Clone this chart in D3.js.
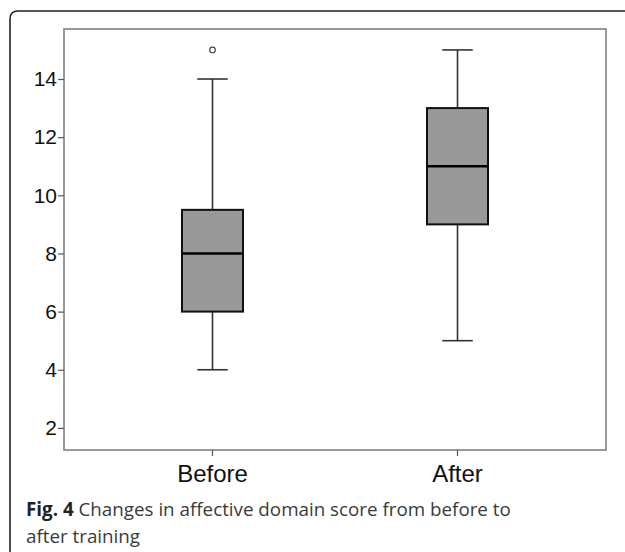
<!DOCTYPE html>
<html>
<head>
<meta charset="utf-8">
<script src="https://cdn.jsdelivr.net/npm/d3@7"></script>
<style>
  html, body { margin: 0; padding: 0; background: #fff; }
  svg { display: block; }
</style>
</head>
<body>
<div id="chart"></div>
<script>
// datos
const categorias = ["Before", "After"];
const minimos   = [4, 5];
const q1        = [6, 9];
const medianas  = [8, 11];
const q3        = [9.5, 13];
const maximos   = [14, 15];
const atipicos  = [[15], []];
const ticksY    = [2, 4, 6, 8, 10, 12, 14];

const width = 625, height = 552;
const mIzq = 64, mDer = 606, mSup = 29, mInf = 450;

const datos = categorias.map((c, i) => ({
    cat: c, min: minimos[i], q1: q1[i], med: medianas[i], q3: q3[i], max: maximos[i], out: atipicos[i]
}));

const svg = d3.select("#chart").append("svg")
    .attr("width", width)
    .attr("height", height);

// marco exterior (esquina redondeada arriba a la izquierda)
svg.append("path")
    .attr("d", `M10,${height} L10,19 Q10,11 18,11 L${width},11`)
    .attr("fill", "none")
    .attr("stroke", "#222")
    .attr("stroke-width", 1.6);

const x = d3.scaleBand()
    .domain(categorias)
    .range([mIzq, mDer])
    .paddingInner(0.751)
    .paddingOuter(0.4815);

const y = d3.scaleLinear()
    .domain([1.24, 15.72])
    .range([mInf, mSup]);

// marco del gráfico
svg.append("rect")
    .attr("x", mIzq).attr("y", mSup)
    .attr("width", mDer - mIzq).attr("height", mInf - mSup)
    .attr("fill", "none")
    .attr("stroke", "#808080")
    .attr("stroke-width", 1.6);

// eje Y
const ejeY = svg.append("g")
    .attr("transform", `translate(${mIzq},0)`)
    .call(d3.axisLeft(y).tickValues(ticksY).tickSize(6).tickPadding(1).tickFormat(d3.format("d")));
ejeY.select(".domain").remove();
ejeY.selectAll(".tick line").attr("stroke", "#555").attr("stroke-width", 1.2);
ejeY.selectAll(".tick text")
    .attr("font-family", "'Liberation Sans', Arial, sans-serif")
    .attr("font-size", "21px")
    .attr("fill", "#111");

// eje X
const ejeX = svg.append("g")
    .attr("transform", `translate(0,${mInf})`)
    .call(d3.axisBottom(x).tickSize(6).tickPadding(9));
ejeX.select(".domain").remove();
ejeX.selectAll(".tick line").attr("stroke", "#555").attr("stroke-width", 1.2);
ejeX.selectAll(".tick text")
    .attr("font-family", "'Liberation Sans', Arial, sans-serif")
    .attr("font-size", "24px")
    .attr("fill", "#111");

const bw = x.bandwidth();
const cajas = svg.append("g").selectAll("g")
    .data(datos)
    .enter().append("g");

// bigotes
cajas.append("line")
    .attr("x1", d => x(d.cat) + bw / 2).attr("x2", d => x(d.cat) + bw / 2)
    .attr("y1", d => y(d.max)).attr("y2", d => y(d.q3))
    .attr("stroke", "#333").attr("stroke-width", 1.6);
cajas.append("line")
    .attr("x1", d => x(d.cat) + bw / 2).attr("x2", d => x(d.cat) + bw / 2)
    .attr("y1", d => y(d.q1)).attr("y2", d => y(d.min))
    .attr("stroke", "#333").attr("stroke-width", 1.6);
cajas.selectAll(".cap")
    .data(d => [d, d].map((v, k) => ({cat: v.cat, val: k ? v.min : v.max})))
    .enter().append("line")
    .attr("class", "cap")
    .attr("x1", d => x(d.cat) + bw / 4).attr("x2", d => x(d.cat) + bw * 3 / 4)
    .attr("y1", d => y(d.val)).attr("y2", d => y(d.val))
    .attr("stroke", "#333").attr("stroke-width", 1.6);

// caja
cajas.append("rect")
    .attr("x", d => x(d.cat))
    .attr("y", d => y(d.q3))
    .attr("width", bw)
    .attr("height", d => y(d.q1) - y(d.q3))
    .attr("fill", "#999")
    .attr("stroke", "#111")
    .attr("stroke-width", 2);

// mediana
cajas.append("line")
    .attr("x1", d => x(d.cat)).attr("x2", d => x(d.cat) + bw)
    .attr("y1", d => y(d.med)).attr("y2", d => y(d.med))
    .attr("stroke", "#000").attr("stroke-width", 2.6);

// valores atípicos
cajas.selectAll(".out")
    .data(d => d.out.map(v => ({cat: d.cat, val: v})))
    .enter().append("circle")
    .attr("class", "out")
    .attr("cx", d => x(d.cat) + bw / 2)
    .attr("cy", d => y(d.val))
    .attr("r", 2.8)
    .attr("fill", "none")
    .attr("stroke", "#444")
    .attr("stroke-width", 1.2);

// pie de figura
const pie = svg.append("text")
    .attr("x", 26).attr("y", 516)
    .attr("font-family", "'Open Sans', 'Noto Sans', sans-serif")
    .attr("font-size", "18.8px")
    .attr("fill", "#3a3a3a");
pie.append("tspan").attr("font-weight", "bold").attr("fill", "#222").text("Fig. 4");
pie.append("tspan").text(" Changes in affective domain score from before to");
svg.append("text")
    .attr("x", 26).attr("y", 543)
    .attr("font-family", "'Open Sans', 'Noto Sans', sans-serif")
    .attr("font-size", "18.8px")
    .attr("fill", "#3a3a3a")
    .text("after training");
</script>
</body>
</html>
